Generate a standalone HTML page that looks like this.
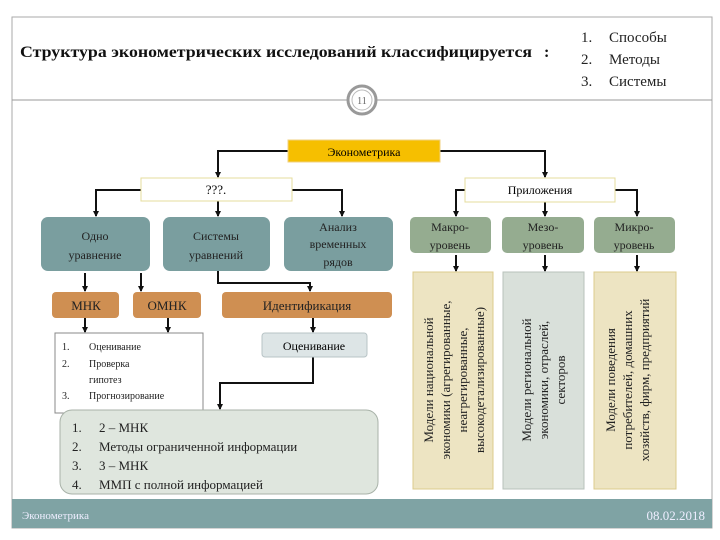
<!DOCTYPE html>
<html><head><meta charset="utf-8"><style>
body{margin:0;background:#fff;}
svg{display:block;font-family:"Liberation Serif","DejaVu Serif",serif;}
</style></head><body>
<svg width="720" height="540" viewBox="0 0 720 540" xmlns="http://www.w3.org/2000/svg">
<defs><marker id="a" markerUnits="userSpaceOnUse" markerWidth="7" markerHeight="7" refX="5" refY="3.5" orient="auto"><path d="M0,0.5L6,3.5L0,6.5z" fill="#111"/></marker></defs>
<rect x="12" y="17" width="700" height="511" fill="#fff" stroke="#aaa" stroke-width="1"/>
<rect x="12" y="499" width="700" height="29" fill="#7fa3a4"/>
<text x="22" y="519" font-size="11" fill="#eef">Эконометрика</text>
<text x="705" y="520" font-size="13" fill="#eef" text-anchor="end">08.02.2018</text>
<line x1="12" y1="100" x2="712" y2="100" stroke="#999"/>
<circle cx="362" cy="100" r="14" fill="#fff" stroke="#999" stroke-width="3"/>
<circle cx="362" cy="100" r="10" fill="#fff" stroke="#bbb" stroke-width="1"/>
<text x="362" y="104" font-size="10" text-anchor="middle" fill="#666">11</text>
<text x="20" y="57" font-size="16" font-weight="bold" fill="#111" textLength="512" lengthAdjust="spacingAndGlyphs">Структура эконометрических исследований классифицируется</text>
<text x="544" y="57" font-size="16" font-weight="bold" fill="#111">:</text>
<g font-size="15" fill="#222"><text x="581" y="42">1.</text><text x="609" y="42">Способы</text>
<text x="581" y="64">2.</text><text x="609" y="64">Методы</text>
<text x="581" y="86">3.</text><text x="609" y="86">Системы</text></g>
<g stroke="#111" stroke-width="2" fill="none">
<polyline points="288,151 218,151 218,177" marker-end="url(#a)"/>
<polyline points="440,151 545,151 545,177" marker-end="url(#a)"/>
<polyline points="141,190 96,190 96,216" marker-end="url(#a)"/>
<polyline points="292,190 342,190 342,216" marker-end="url(#a)"/>
<line x1="218" y1="201" x2="218" y2="216" marker-end="url(#a)"/>
<polyline points="465,190 456,190 456,216" marker-end="url(#a)"/>
<polyline points="615,190 637,190 637,216" marker-end="url(#a)"/>
<line x1="545" y1="202" x2="545" y2="216" marker-end="url(#a)"/>
<line x1="456" y1="255" x2="456" y2="271" marker-end="url(#a)"/>
<line x1="545" y1="255" x2="545" y2="271" marker-end="url(#a)"/>
<line x1="637" y1="255" x2="637" y2="271" marker-end="url(#a)"/>
<line x1="85" y1="273" x2="85" y2="291" marker-end="url(#a)"/>
<line x1="141" y1="273" x2="141" y2="291" marker-end="url(#a)"/>
<polyline points="218,271 218,283 310,283 310,291" marker-end="url(#a)"/>
<line x1="85" y1="318" x2="85" y2="332" marker-end="url(#a)"/>
<line x1="168" y1="318" x2="168" y2="332" marker-end="url(#a)"/>
<line x1="313" y1="318" x2="313" y2="332" marker-end="url(#a)"/>
<polyline points="313,357 313,383 220,383 220,409" marker-end="url(#a)"/>
</g>
<rect x="288" y="140" width="152" height="22" fill="#f6bf00" stroke="#f0d080"/>
<text x="364" y="156" font-size="12" text-anchor="middle">Эконометрика</text>
<rect x="141" y="178" width="151" height="23" fill="#fff" stroke="#e6dc9c"/>
<text x="216" y="194" font-size="13" text-anchor="middle">???.</text>
<rect x="465" y="178" width="150" height="24" fill="#fff" stroke="#e6dc9c"/>
<text x="540" y="194" font-size="12" text-anchor="middle">Приложения</text>
<g fill="#7a9e9f">
<rect x="41" y="217" width="109" height="54" rx="7"/>
<rect x="163" y="217" width="107" height="54" rx="7"/>
<rect x="284" y="217" width="109" height="54" rx="7"/></g>
<g font-size="12" text-anchor="middle" fill="#222">
<text x="95" y="240">Одно</text><text x="95" y="259">уравнение</text>
<text x="216" y="240">Системы</text><text x="216" y="259">уравнений</text>
<text x="338" y="231">Анализ</text><text x="338" y="248">временных</text><text x="338" y="266">рядов</text></g>
<g fill="#95ac90">
<rect x="410" y="217" width="81" height="36" rx="5"/>
<rect x="502" y="217" width="82" height="36" rx="5"/>
<rect x="594" y="217" width="81" height="36" rx="5"/></g>
<g font-size="12" text-anchor="middle" fill="#222">
<text x="450" y="231">Макро-</text><text x="450" y="249">уровень</text>
<text x="543" y="231">Мезо-</text><text x="543" y="249">уровень</text>
<text x="634" y="231">Микро-</text><text x="634" y="249">уровень</text></g>
<rect x="413" y="272" width="80" height="217" fill="#ede4c2" stroke="#dccb8c"/>
<rect x="503" y="272" width="81" height="217" fill="#d9e0da" stroke="#b8c2bb"/>
<rect x="594" y="272" width="82" height="217" fill="#ede4c2" stroke="#dccb8c"/>
<g font-size="13" text-anchor="middle" fill="#222">
<g transform="translate(453,380) rotate(-90)"><text x="0" y="-20">Модели национальной</text><text x="0" y="-3">экономики (агрегированные,</text><text x="0" y="14">неагрегированные,</text><text x="0" y="31">высокодетализированные)</text></g>
<g transform="translate(543,380) rotate(-90)"><text x="0" y="-12">Модели региональной</text><text x="0" y="5">экономики, отраслей,</text><text x="0" y="22">секторов</text></g>
<g transform="translate(635,380) rotate(-90)"><text x="0" y="-20">Модели поведения</text><text x="0" y="-3">потребителей, домашних</text><text x="0" y="14">хозяйств, фирм, предприятий</text></g></g>
<g fill="#cf8f52">
<rect x="52" y="292" width="67" height="26" rx="4"/>
<rect x="133" y="292" width="68" height="26" rx="4"/>
<rect x="222" y="292" width="170" height="26" rx="4"/></g>
<g font-size="13" text-anchor="middle" fill="#222">
<text x="86" y="310">МНК</text><text x="167" y="310">ОМНК</text><text x="307" y="310">Идентификация</text></g>
<rect x="55" y="333" width="148" height="80" fill="#fff" stroke="#888"/>
<g font-size="10" fill="#222"><text x="62" y="350">1.</text><text x="89" y="350">Оценивание</text>
<text x="62" y="367">2.</text><text x="89" y="367">Проверка</text><text x="89" y="383">гипотез</text>
<text x="62" y="399">3.</text><text x="89" y="399">Прогнозирование</text></g>
<rect x="262" y="333" width="105" height="24" rx="3" fill="#dde5e6" stroke="#b8c4c6"/>
<text x="314" y="350" font-size="12" text-anchor="middle">Оценивание</text>
<rect x="60" y="410" width="318" height="84" rx="12" fill="#dfe6de" stroke="#a8b2a8"/>
<g font-size="13" fill="#222"><text x="72" y="432">1.</text><text x="99" y="432">2 – МНК</text>
<text x="72" y="451">2.</text><text x="99" y="451">Методы ограниченной информации</text>
<text x="72" y="470">3.</text><text x="99" y="470">3 – МНК</text>
<text x="72" y="489">4.</text><text x="99" y="489">ММП с полной информацией</text></g>
</svg>
</body></html>
